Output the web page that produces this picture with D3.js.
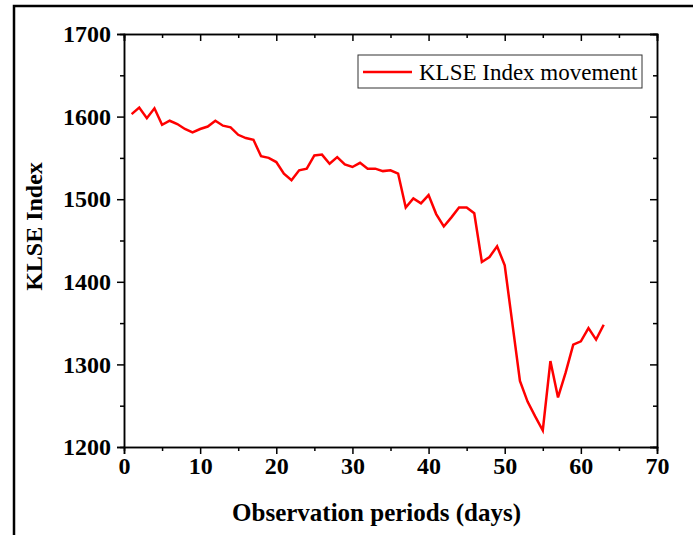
<!DOCTYPE html>
<html>
<head>
<meta charset="utf-8">
<script src="https://cdn.jsdelivr.net/npm/d3@7"></script>
<style>
  body { margin: 0; background: #fff; }
  svg { display: block; font-family: "Liberation Serif", "Times New Roman", serif; }
</style>
</head>
<body>
<svg id="chart" width="693" height="535"></svg>
<script>
// observation day and KLSE index close
const days = d3.range(1, 64);
const klse = [
  1603, 1611, 1598, 1610, 1590, 1595, 1591, 1585, 1581, 1585,
  1588, 1595, 1589, 1587, 1578, 1574, 1572, 1552, 1550, 1545,
  1531, 1523, 1535, 1537, 1553, 1554, 1543, 1551, 1542, 1539,
  1544, 1537, 1537, 1534, 1535, 1531, 1490, 1501, 1495, 1505,
  1482, 1467, 1478, 1490, 1490, 1483, 1424, 1430, 1443, 1420,
  1350, 1280, 1255, 1237, 1220, 1304, 1260, 1290, 1324, 1328,
  1344, 1330, 1348
];
const xTicks = [0, 10, 20, 30, 40, 50, 60, 70];
const yTicks = [1200, 1300, 1400, 1500, 1600, 1700];
const seriesName = "KLSE Index movement";

const margin = { left: 124, right: 36, top: 34, bottom: 88 };
const width = 693, height = 535;
const svg = d3.select("#chart");

// outer frame (only top and left edges are visible)
svg.append("rect")
    .attr("x", 14).attr("y", 6)
    .attr("width", 700).attr("height", 600)
    .attr("fill", "none").attr("stroke", "#000").attr("stroke-width", 2.5);

const x = d3.scaleLinear().domain([0, 70]).range([margin.left, width - margin.right]);
const y = d3.scaleLinear().domain([1200, 1700]).range([height - margin.bottom, margin.top]);

const minorX = d3.range(5, 70, 10);
const minorY = d3.range(1250, 1700, 100);

// bottom axis
svg.append("g").attr("transform", `translate(0,${y(1200)})`)
    .call(d3.axisBottom(x).tickValues(xTicks).tickSize(7).tickPadding(3).tickFormat(d3.format("d")));
svg.append("g").attr("transform", `translate(0,${y(1200)})`)
    .call(d3.axisBottom(x).tickValues(minorX).tickSize(4).tickFormat(""));
// left axis
svg.append("g").attr("transform", `translate(${x(0)},0)`)
    .call(d3.axisLeft(y).tickValues(yTicks).tickSize(7).tickPadding(6).tickFormat(d3.format("d")));
svg.append("g").attr("transform", `translate(${x(0)},0)`)
    .call(d3.axisLeft(y).tickValues(minorY).tickSize(4).tickFormat(""));
// top axis, ticks inward
svg.append("g").attr("transform", `translate(0,${y(1700)})`)
    .call(d3.axisTop(x).tickValues(xTicks).tickSize(-7).tickFormat(""));
svg.append("g").attr("transform", `translate(0,${y(1700)})`)
    .call(d3.axisTop(x).tickValues(minorX).tickSize(-4).tickFormat(""));
// right axis, ticks inward
svg.append("g").attr("transform", `translate(${x(70)},0)`)
    .call(d3.axisRight(y).tickValues(yTicks).tickSize(-7).tickFormat(""));
svg.append("g").attr("transform", `translate(${x(70)},0)`)
    .call(d3.axisRight(y).tickValues(minorY).tickSize(-4).tickFormat(""));

svg.selectAll(".domain").attr("stroke", "#000").attr("stroke-width", 1.5);
svg.selectAll(".tick line").attr("stroke", "#000").attr("stroke-width", 1.5);
svg.selectAll(".tick text")
    .attr("fill", "#000")
    .style("font-size", "24px")
    .style("font-weight", "bold")
    .style("font-family", "'Liberation Serif', serif");

// axis titles
svg.append("text")
    .attr("x", (x(0) + x(70)) / 2 - 14).attr("y", 521)
    .attr("text-anchor", "middle")
    .style("font-size", "25px").style("font-weight", "bold")
    .text("Observation periods (days)");
svg.append("text")
    .attr("transform", `translate(42,${(y(1200) + y(1700)) / 2 - 14}) rotate(-90)`)
    .attr("text-anchor", "middle")
    .style("font-size", "24px").style("font-weight", "bold")
    .text("KLSE Index");

// series line
const line = d3.line()
    .x((d, i) => x(days[i]))
    .y(d => y(d));
svg.append("path")
    .datum(klse)
    .attr("d", line)
    .attr("fill", "none")
    .attr("stroke", "#ff0000")
    .attr("stroke-width", 2.5)
    .attr("stroke-linejoin", "miter");

// legend
const lg = svg.append("g");
lg.append("rect")
    .attr("x", 358).attr("y", 55).attr("width", 284).attr("height", 33)
    .attr("fill", "#fff").attr("stroke", "#333").attr("stroke-width", 1);
lg.append("line")
    .attr("x1", 363).attr("x2", 412).attr("y1", 72).attr("y2", 72)
    .attr("stroke", "#ff0000").attr("stroke-width", 2.5);
lg.append("text")
    .attr("x", 419).attr("y", 80)
    .style("font-size", "23px")
    .text(seriesName);
</script>
</body>
</html>
